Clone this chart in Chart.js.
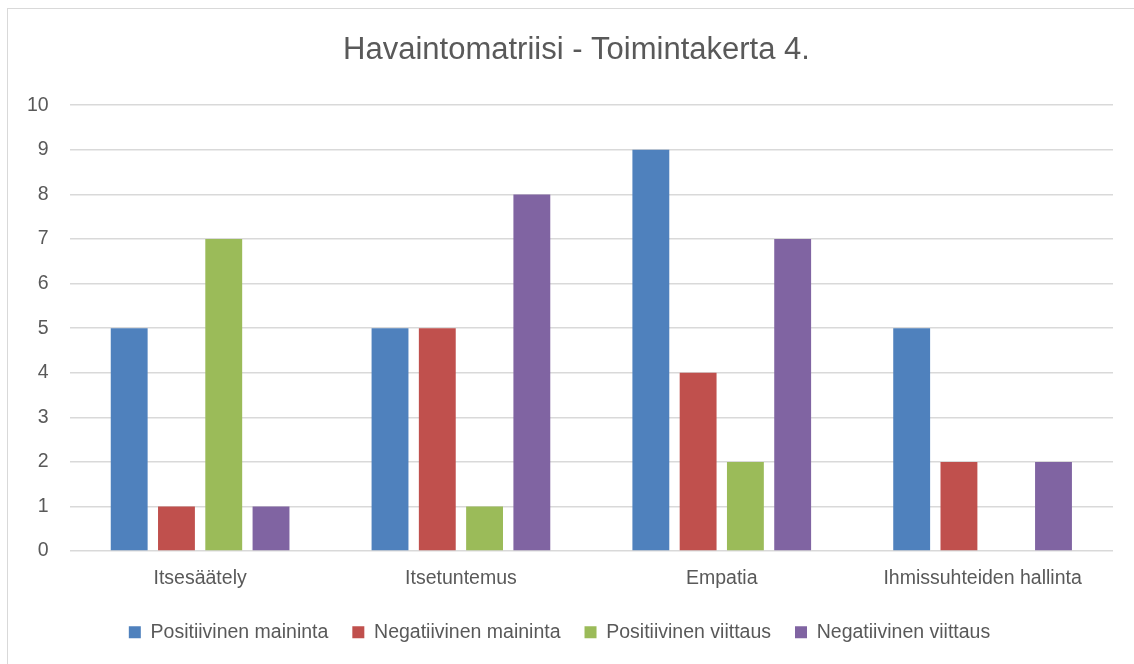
<!DOCTYPE html>
<html>
<head>
<meta charset="utf-8">
<script src="https://cdn.jsdelivr.net/npm/chart.js@4/dist/chart.umd.min.js"></script>
<style>
  html, body { margin: 0; padding: 0; background: #fff; overflow: hidden; }
  #frame { position: absolute; left: 7px; top: 8px; width: 1200px; height: 700px; border: 1.5px solid #D9D9D9; box-sizing: border-box; }
  #wrap { position: absolute; left: 0; top: 0; width: 1134px; height: 664px; }
</style>
</head>
<body>
<div id="frame"></div>
<div id="wrap"><canvas id="c" width="1134" height="664"></canvas></div>
<script>
const categories = ["Itsesäätely", "Itsetuntemus", "Empatia", "Ihmissuhteiden hallinta"];
const seriesNames = ["Positiivinen maininta", "Negatiivinen maininta", "Positiivinen viittaus", "Negatiivinen viittaus"];
const positiivinenMaininta = [5, 5, 9, 5];
const negatiivinenMaininta = [1, 5, 4, 2];
const positiivinenViittaus = [7, 1, 2, 0];
const negatiivinenViittaus = [1, 8, 7, 2];
const colors = ["#4F81BD", "#C0504D", "#9BBB59", "#8064A2"];
const yTicks = [0, 1, 2, 3, 4, 5, 6, 7, 8, 9, 10];

const FONT = "'Liberation Sans Narrow', 'Arial Narrow', 'Liberation Sans', sans-serif";
const values = [positiivinenMaininta, negatiivinenMaininta, positiivinenViittaus, negatiivinenViittaus];

const shiftTitle = {
  id: 'shiftTitle',
  afterLayout(chart) {
    if (chart.titleBlock) { chart.titleBlock.left += 34; }
  }
};

new Chart(document.getElementById('c'), {
  type: 'bar',
  data: {
    labels: categories,
    datasets: seriesNames.map((n, i) => ({
      label: n,
      data: values[i],
      backgroundColor: colors[i],
      borderWidth: 0,
      categoryPercentage: 0.725,
      barPercentage: 0.78
    }))
  },
  plugins: [shiftTitle],
  options: {
    responsive: false,
    animation: false,
    devicePixelRatio: 1,
    layout: { padding: { left: 6, right: 21, top: 10, bottom: 12 } },
    plugins: {
      title: {
        display: true,
        text: 'Havaintomatriisi - Toimintakerta 4.',
        color: '#595959',
        font: { family: FONT, size: 31, weight: 'normal' },
        padding: { top: 22, bottom: 36 }
      },
      legend: {
        position: 'bottom',
        labels: {
          color: '#595959',
          font: { family: FONT, size: 19.5 },
          boxWidth: 12,
          boxHeight: 12,
          padding: 24
        }
      },
      tooltip: { enabled: false }
    },
    scales: {
      x: {
        grid: { display: false },
        border: { display: false },
        ticks: { color: '#595959', font: { family: FONT, size: 19.5 }, padding: 8 }
      },
      y: {
        min: 0, max: 10,
        afterBuildTicks: (s) => { s.ticks = yTicks.map(v => ({ value: v })); },
        grid: { color: '#D9D9D9', lineWidth: 1.5, drawTicks: false },
        border: { display: false },
        ticks: { color: '#595959', font: { family: FONT, size: 19.5 }, padding: 21 }
      }
    }
  }
});
</script>
</body>
</html>
